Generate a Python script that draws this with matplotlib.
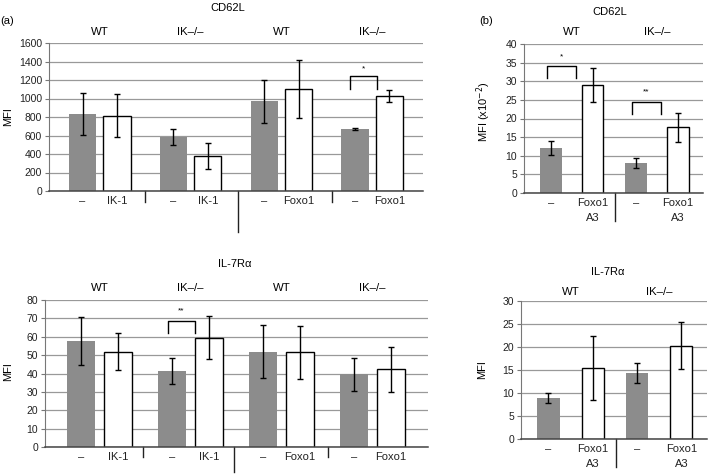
import matplotlib
matplotlib.use('Agg')
import matplotlib.pyplot as plt
import matplotlib.transforms as mtransforms
import numpy as np

plt.rcParams['font.family'] = ['Liberation Sans', 'DejaVu Sans']
plt.rcParams['font.size'] = 7.5

# panel (a): four groups, control bar (gray) + transduced bar (white)
groups_a = ['WT', 'IK–/–', 'WT', 'IK–/–']
xlabels_a = ['–', 'IK-1', '–', 'IK-1', '–', 'Foxo1', '–', 'Foxo1']

cd62l_a_ctrl = [833, 583, 970, 670]
cd62l_a_ctrl_err = [230, 85, 235, 15]
cd62l_a_trt = [815, 380, 1103, 1027]
cd62l_a_trt_err = [233, 137, 310, 67]

il7_a_ctrl = [57.7, 41.4, 51.9, 39.7]
il7_a_ctrl_err = [13.2, 7.3, 14.3, 9.0]
il7_a_trt = [51.9, 59.5, 51.5, 42.3]
il7_a_trt_err = [10.0, 11.8, 14.5, 12.2]

# panel (b): two groups
groups_b = ['WT', 'IK–/–']
xlabels_b = ['–', 'Foxo1\nA3', '–', 'Foxo1\nA3']

cd62l_b_ctrl = [12.0, 8.05]
cd62l_b_ctrl_err = [1.9, 1.25]
cd62l_b_trt = [29.0, 17.7]
cd62l_b_trt_err = [4.6, 3.9]

il7_b_ctrl = [8.94, 14.3]
il7_b_ctrl_err = [1.1, 2.2]
il7_b_trt = [15.5, 20.3]
il7_b_trt_err = [7.0, 5.15]

# significance: (group, bracket top, bracket leg end, star y, label)
sig_cd62l_a = [(3, 1240, 1107, 1323, '*')]
sig_il7_a = [(1, 68.6, 61.9, 74, '**')]
sig_cd62l_b = [(0, 34.1, 31.0, 36.6, '*'), (1, 24.3, 21.1, 27.2, '**')]
sig_il7_b = []

W, H = 709, 475
fig = plt.figure(figsize=(W / 100, H / 100), dpi=100)


def rect(l, t, r, b):
    return [l / W, 1 - b / H, (r - l) / W, (b - t) / H]


def draw_panel(ax, groups, xlabels, ctrl, ctrl_err, trt, trt_err, ymax, ystep,
               off, width, xlim, group_y, seps, sigs):
    x = np.arange(len(groups))
    ax.bar(x - off, ctrl, width, color='#8c8c8c', zorder=2)
    ax.bar(x + off, trt, width, color='white', edgecolor='black', linewidth=1, zorder=2)
    ax.errorbar(x - off, ctrl, yerr=ctrl_err, fmt='none', ecolor='black',
                elinewidth=1, capsize=2.5, capthick=1, zorder=3)
    ax.errorbar(x + off, trt, yerr=trt_err, fmt='none', ecolor='black',
                elinewidth=1, capsize=2.5, capthick=1, zorder=3)

    ax.set_xlim(*xlim)
    ax.set_ylim(0, ymax)
    ax.set_yticks(np.arange(0, ymax + ystep / 2, ystep))
    pos = np.ravel(np.column_stack([x - off, x + off]))
    ax.set_xticks(pos, xlabels)
    ax.tick_params(axis='x', length=0, pad=3.5, colors='#222222', labelsize=8)
    ax.tick_params(axis='y', length=3, width=0.8, color='#777777', pad=2, labelcolor='#222222')
    ax.yaxis.grid(True, color='#999999', linewidth=0.9)
    ax.set_axisbelow(True)
    for s in ['top', 'right']:
        ax.spines[s].set_visible(False)
    ax.spines['left'].set_color('#777777')
    ax.spines['bottom'].set_color('#444444')
    ax.spines['bottom'].set_linewidth(1.1)

    trans = mtransforms.blended_transform_factory(ax.transData, ax.transAxes)
    for g, gx in zip(groups, x):
        ax.text(gx, group_y, g, transform=trans, ha='center', va='center', fontsize=8.2)
    for sx, depth in seps:
        ax.plot([sx, sx], [0, -depth], transform=trans, color='#222222',
                linewidth=1, clip_on=False)
    for g, top, leg, sy, lab in sigs:
        x0 = g - off - 0.05
        x1 = g + 0.05
        ax.plot([x0, x0, x1, x1], [leg, top, top, leg], color='black', linewidth=1, zorder=3)
        ax.text((x0 + x1) / 2, sy, lab, ha='center', va='center', fontsize=6)


ax1 = fig.add_axes(rect(49, 43, 423, 191))
draw_panel(ax1, groups_a, xlabels_a, cd62l_a_ctrl, cd62l_a_ctrl_err, cd62l_a_trt,
           cd62l_a_trt_err, 1600, 200, 0.19, 0.3, (-0.56, 3.56), 1.074,
           [(0.5, 11 / 148), (1.52, 41 / 148), (2.56, 11 / 148)], sig_cd62l_a)

ax2 = fig.add_axes(rect(45, 300, 428, 447))
draw_panel(ax2, groups_a, xlabels_a, il7_a_ctrl, il7_a_ctrl_err, il7_a_trt,
           il7_a_trt_err, 80, 10, 0.2, 0.31, (-0.6, 3.61), 1.082,
           [(0.48, 10 / 147), (1.48, 25 / 147), (2.51, 10 / 147)], sig_il7_a)

ax3 = fig.add_axes(rect(524, 44, 703, 193))
draw_panel(ax3, groups_b, xlabels_b, cd62l_b_ctrl, cd62l_b_ctrl_err, cd62l_b_trt,
           cd62l_b_trt_err, 40, 5, 0.245, 0.25, (-0.56, 1.54), 1.08,
           [(0.51, 28 / 149)], sig_cd62l_b)

ax4 = fig.add_axes(rect(521, 301, 707, 439))
draw_panel(ax4, groups_b, xlabels_b, il7_b_ctrl, il7_b_ctrl_err, il7_b_trt,
           il7_b_trt_err, 30, 5, 0.25, 0.25, (-0.56, 1.54), 1.065,
           [(0.51, 28 / 138)], sig_il7_b)

for ax in [ax3, ax4]:
    for lab in ax.get_xticklabels():
        lab.set_linespacing(1.6)


def ftext(px, py, s, **kw):
    fig.text(px / W, 1 - py / H, s, ha='center', va='center', **kw)


ftext(228, 8, 'CD62L', fontsize=8)
ftext(610, 12, 'CD62L', fontsize=8)
ftext(235, 264, 'IL-7Rα', fontsize=8)
ftext(608, 272, 'IL-7Rα', fontsize=8)
ftext(7, 21, '(a)', fontsize=8)
ftext(486, 21, '(b)', fontsize=8)
ftext(8, 117, 'MFI', fontsize=8, rotation=90)
ftext(8, 372, 'MFI', fontsize=8, rotation=90)
ftext(484, 112, r'MFI (x10$^{-2}$)', fontsize=8, rotation=90)
ftext(482, 370, 'MFI', fontsize=8, rotation=90)

fig.savefig('out.png', dpi=100)
